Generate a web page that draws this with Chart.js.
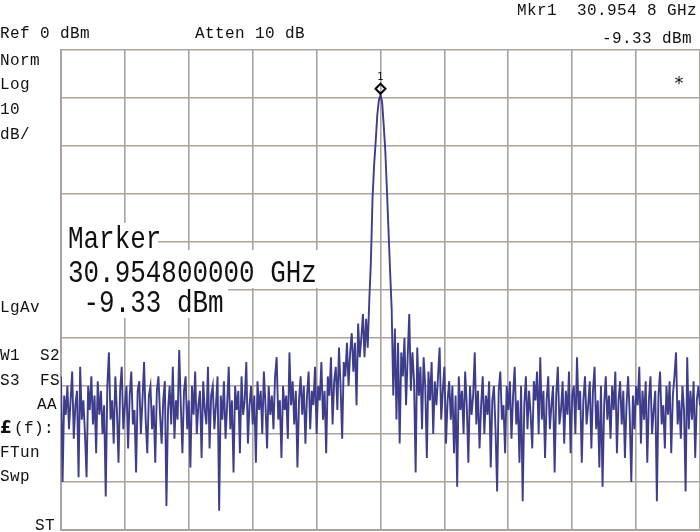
<!DOCTYPE html>
<html>
<head>
<meta charset="utf-8">
<script src="https://cdn.jsdelivr.net/npm/chart.js@4"></script>
<style>
  body { margin: 0; background: #fff; }
  #wrap { width: 700px; height: 532px; }
</style>
</head>
<body>
<div id="wrap"><canvas id="spectrum" width="700" height="532"></canvas></div>
<script>
// trace levels in dBm, 401 sweep points (point 200 = marker / center)
const levels = [
  -68, -90, -72, -76, -70, -79, -73, -67, -81, -74, -71, -89, -66, -77, -73, -80, -89, -70, -75, -68,
  -78, -72, -84, -69, -76, -71, -80, -74, -93, -70, -63, -77, -73, -82, -68, -75, -86, -71, -66, -79,
  -74, -70, -83, -72, -67, -78, -75, -88, -71, -69, -80, -73, -65, -77, -84, -72, -70, -79, -74, -86,
  -71, -68, -76, -82, -73, -69, -95, -75, -70, -78, -66, -81, -73, -77, -62.5, -74, -84, -71, -68, -79,
  -73, -87, -70, -76, -67, -80, -74, -71, -85, -69, -75, -78, -66, -83, -72, -70, -79, -74, -68, -96,
  -72, -77, -69, -81, -74, -66, -79, -73, -88, -70, -75, -71, -84, -68, -76, -73, -65, -82, -74, -70,
  -78, -72, -86, -69, -75, -71, -80, -67, -74, -83, -70, -76, -72, -79, -68, -64, -77, -73, -85, -70,
  -75, -72, -81, -63, -74, -69, -78, -71, -87, -73, -68, -76, -70, -82, -72, -67, -79, -71, -74, -66,
  -80, -70, -73, -65, -77, -71, -84, -68, -72, -64, -78, -69, -66, -75, -62, -70, -81, -65, -68, -61,
  -70, -63, -59, -67, -61, -74, -57, -64, -60, -55, -64, -56, -62, -52, -44, -31, -24, -19, -13.5, -10.4,
  -9.33, -10.8, -15.6, -21, -29, -37.5, -46, -54, -72, -58, -77, -61, -82, -63, -68, -60, -74, -64, -55, -71,
  -63, -69, -88, -62, -72, -66, -79, -64, -70, -85, -67, -73, -65, -80, -69, -74, -68, -62, -77, -71,
  -66, -82, -73, -69, -77, -70, -84, -72, -91, -68, -75, -71, -80, -67, -74, -86, -70, -76, -72, -63,
  -78, -71, -83, -74, -68, -80, -72, -76, -69, -87, -73, -70, -79, -92, -71, -67, -77, -74, -84, -70,
  -75, -69, -81, -72, -66, -78, -73, -86, -70, -94, -74, -68, -79, -71, -76, -83, -69, -73, -67, -80,
  -64, -77, -71, -85, -73, -68, -79, -74, -70, -88, -72, -66, -78, -75, -69, -82, -71, -76, -67, -84,
  -72, -70, -80, -64, -75, -71, -86, -73, -68, -78, -74, -69, -83, -71, -66, -79, -73, -87, -70, -91,
  -74, -68, -77, -72, -81, -70, -75, -67, -84, -73, -69, -78, -71, -85, -74, -68, -76, -90, -72, -79,
  -70, -74, -66, -82, -71, -77, -69, -86, -73, -68, -80, -75, -71, -94, -72, -67, -78, -74, -83, -70,
  -76, -69, -84, -72, -68, -63, -78, -73, -81, -70, -75, -92, -64, -79, -71, -77, -69, -85, -73, -70,
  -74
];

const refLevel = 0;       // dBm, top of screen
const dbPerDiv = 10;
const markerIdx = 200;
const markerFreq = '30.954800000 GHz';
const markerAmpl = '-9.33 dBm';

const topText = [
  { t: 'Ref 0 dBm', x: 0, y: 38 },
  { t: 'Atten 10 dB', x: 195, y: 38 },
  { t: 'Mkr1  30.954 8 GHz', x: 697, y: 15, right: true },
  { t: '-9.33 dBm', x: 692, y: 43, right: true }
];
const sideText = [
  { t: 'Norm', x: 0, y: 65 },
  { t: 'Log', x: 0, y: 89 },
  { t: '10', x: 0, y: 114 },
  { t: 'dB/', x: 0, y: 139 },
  { t: 'LgAv', x: 0, y: 312 },
  { t: 'W1  S2', x: 0, y: 360 },
  { t: 'S3  FS', x: 0, y: 385 },
  { t: 'AA', x: 57, y: 409, right: true },
  { t: '(f):', x: 14, y: 433 },
  { t: 'FTun', x: 0, y: 457 },
  { t: 'Swp', x: 0, y: 481 },
  { t: 'ST', x: 55, y: 530, right: true }
];

const points = levels.map((v, i) => ({ x: i, y: v }));
const gridColor = '#aba39d';

function putText(ctx, item, font, spacing) {
  ctx.font = font;
  ctx.letterSpacing = spacing;
  ctx.textAlign = item.right ? 'right' : 'left';
  ctx.fillText(item.t, item.x, item.y);
}

const overlay = {
  id: 'overlay',
  beforeDatasetsDraw(chart) {
    const ctx = chart.ctx;
    ctx.save();
    ctx.fillStyle = '#fff';
    ctx.fillRect(62, 223, 96, 27);
    ctx.fillRect(62, 250, 260, 38);
    ctx.fillRect(62, 288, 166, 30);
    ctx.restore();
  },
  afterDraw(chart) {
    const ctx = chart.ctx;
    const xs = chart.scales.x, ys = chart.scales.y;
    ctx.save();
    ctx.fillStyle = '#111';
    ctx.textBaseline = 'alphabetic';
    topText.forEach(it => putText(ctx, it, '16px "Liberation Mono"', '0.4px'));
    sideText.forEach(it => putText(ctx, it, '16px "Liberation Mono"', '0.4px'));
    putText(ctx, { t: '£', x: 0, y: 433 }, 'bold 17px "DejaVu Sans"', '0px');

    // big marker readout, narrow tall font
    const big = ['Marker', markerFreq, ' ' + markerAmpl];
    const baseY = [248, 282, 312];
    ctx.letterSpacing = '0px';
    ctx.textAlign = 'left';
    big.forEach((t, i) => {
      ctx.save();
      ctx.translate(68, baseY[i]);
      ctx.scale(0.81, 1);
      ctx.font = '32px "Liberation Mono"';
      ctx.fillText(t, 0, 0);
      ctx.restore();
    });

    // marker diamond + number
    const mx = xs.getPixelForValue(markerIdx);
    const my = ys.getPixelForValue(levels[markerIdx]) - 6;
    ctx.strokeStyle = '#000';
    ctx.lineWidth = 2;
    ctx.beginPath();
    ctx.moveTo(mx, my - 5);
    ctx.lineTo(mx + 5, my);
    ctx.lineTo(mx, my + 5);
    ctx.lineTo(mx - 5, my);
    ctx.closePath();
    ctx.stroke();
    ctx.font = '10px "DejaVu Sans"';
    ctx.textAlign = 'center';
    ctx.fillText('1', mx, my - 9);

    ctx.font = '18px "DejaVu Sans"';
    ctx.fillText('*', 679, 89);
    ctx.restore();
  }
};

new Chart(document.getElementById('spectrum').getContext('2d'), {
  type: 'line',
  data: {
    datasets: [{
      data: points,
      borderColor: '#3d3d8c',
      borderWidth: 1.9,
      pointRadius: 0,
      tension: 0,
      fill: false
    }]
  },
  options: {
    responsive: false,
    animation: false,
    devicePixelRatio: 1,
    layout: { padding: { left: 61, top: 50, right: 0, bottom: 2 } },
    plugins: { legend: { display: false }, tooltip: { enabled: false } },
    scales: {
      x: {
        type: 'linear',
        min: 0,
        max: levels.length - 1,
        ticks: { display: false, stepSize: (levels.length - 1) / 10 },
        grid: { color: gridColor, lineWidth: 1.6, drawTicks: false },
        border: { display: true, color: gridColor, width: 2 }
      },
      y: {
        min: refLevel - 10 * dbPerDiv,
        max: refLevel,
        ticks: { display: false, stepSize: dbPerDiv },
        grid: { color: gridColor, lineWidth: 1.6, drawTicks: false },
        border: { display: true, color: gridColor, width: 2 }
      }
    }
  },
  plugins: [overlay]
});
</script>
</body>
</html>
